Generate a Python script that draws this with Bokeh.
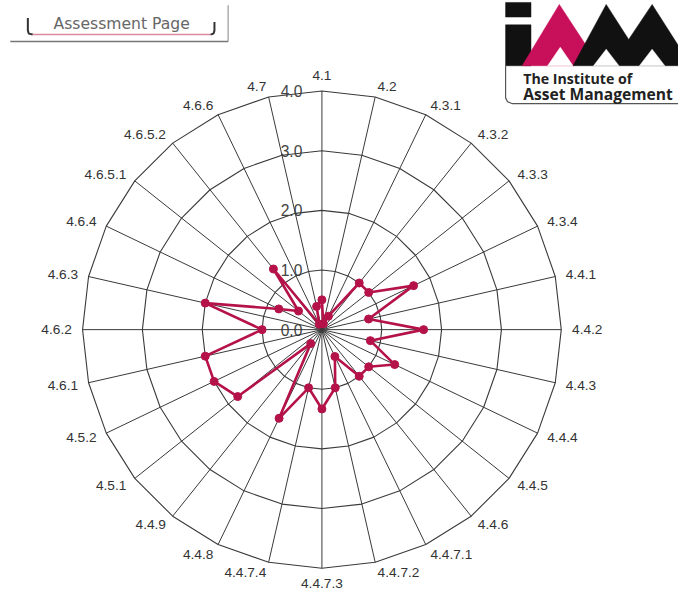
import numpy as np
from bokeh.plotting import figure
from bokeh.models import Range1d
from bokeh.core.properties import value
from bokeh.embed import file_html
from bokeh.resources import INLINE

# ---------------- data ----------------
categories = ["4.1", "4.2", "4.3.1", "4.3.2", "4.3.3", "4.3.4", "4.4.1", "4.4.2",
              "4.4.3", "4.4.4", "4.4.5", "4.4.6", "4.4.7.1", "4.4.7.2", "4.4.7.3",
              "4.4.7.4", "4.4.8", "4.4.9", "4.5.1", "4.5.2", "4.6.1", "4.6.2",
              "4.6.3", "4.6.4", "4.6.5.1", "4.6.5.2", "4.6.6", "4.7"]
scores = [0.5, 0.1, 0.25, 1.0, 1.0, 1.7, 0.8, 1.7,
          0.83, 1.35, 1.0, 1.0, 0.5, 1.0, 1.33,
          1.0, 1.65, 0.3, 1.8, 2.0, 2.0, 1.0,
          2.0, 0.8, 0.5, 1.3, 0.1, 0.4]
ring_values = [0.0, 1.0, 2.0, 3.0, 4.0]
ring_labels = ["0.0", "1.0", "2.0", "3.0", "4.0"]
r_max = 4.0

# ---------------- geometry ----------------
W, H = 678, 594            # figure size (fits the 694x610 window with 8px margin)
REF_W, REF_H = 694, 610    # layout designed in reference pixel space
CX, CY = 329, 338          # chart centre in reference pixels
K = r_max / 245.0          # data units per reference pixel
FS = W / REF_W             # font scale


def px(x, y):
    """reference pixel -> data coords (for decoration only)"""
    return (x - CX) * K, (CY - y) * K


def fs(v):
    return f"{v * FS:.1f}px"


p = figure(width=W, height=H, output_backend="svg", toolbar_location=None,
           x_axis_type=None, y_axis_type=None, min_border=0,
           x_range=Range1d(-CX * K, (REF_W - CX) * K),
           y_range=Range1d(-(REF_H - CY) * K, CY * K))
p.grid.visible = False
p.outline_line_color = None
p.background_fill_color = "white"
p.border_fill_color = "white"

n = len(categories)
ang = np.arange(n) * 2 * np.pi / n        # clockwise from top
sx, cy = np.sin(ang), np.cos(ang)

# ring value labels (under the grid)
p.text(x=[-20 * K] * len(ring_values), y=ring_values, text=ring_labels,
       text_align="right", text_baseline="middle", text_font=value("Liberation Sans"),
       text_font_size=fs(16), text_color="#444444")

# spokes
p.multi_line(xs=[[0, r_max * s] for s in sx], ys=[[0, r_max * c] for c in cy],
             line_color="#3a3a3a", line_width=1)
# rings (polygonal)
for rv in ring_values[1:]:
    p.line(x=list(rv * sx) + [rv * sx[0]], y=list(rv * cy) + [rv * cy[0]],
           line_color="#3a3a3a", line_width=1.1)

# spoke labels
lab_r = 256 * K
groups = {}
for i, name in enumerate(categories):
    s, c = sx[i], cy[i]
    if s > 0.01:
        al, bl = "left", "middle"
    elif s < -0.01:
        al, bl = "right", "middle"
    else:
        al, bl = "center", ("bottom" if c > 0 else "top")
    groups.setdefault((al, bl), ([], [], []))
    g = groups[(al, bl)]
    g[0].append(lab_r * s)
    g[1].append(lab_r * c)
    g[2].append(name)
for (al, bl), (gx, gy, gt) in groups.items():
    p.text(x=gx, y=gy, text=gt, text_align=al, text_baseline=bl,
           text_font=value("Liberation Sans"), text_font_size=fs(14),
           text_color="#333333")

# data series
vals = np.array(scores)
xs = list(vals * sx) + [vals[0] * sx[0]]
ys = list(vals * cy) + [vals[0] * cy[0]]
red = "#B5124A"
p.line(x=xs, y=ys, line_color=red, line_width=2.6)
p.scatter(x=list(vals * sx), y=list(vals * cy), size=8, fill_color=red,
          line_color=red)

# ---------------- header: "Assessment Page" tab ----------------
def seg(pts, **kw):
    xy = [px(a, b) for a, b in pts]
    p.line(x=[q[0] for q in xy], y=[q[1] for q in xy], **kw)

seg([(28, 18), (28, 31), (29, 34), (33, 35)], line_color="#333333", line_width=2)
seg([(33, 35), (215, 35)], line_color="#d98a9c", line_width=1.5)
seg([(215, 35), (218, 34), (219, 31), (219, 22)], line_color="#333333", line_width=2)
seg([(233, 5), (233, 42)], line_color="#9a9a9a", line_width=1.2)
seg([(10, 42), (233, 42)], line_color="#777777", line_width=1.5)
tx, ty = px(124, 24)
p.text(x=[tx], y=[ty], text=["Assessment Page"], text_align="center",
       text_baseline="middle", text_font=value("DejaVu Sans"),
       text_font_size=fs(16), text_color="#666666")

# ---------------- logo ----------------
def poly(pts, color):
    xy = [px(a, b) for a, b in pts]
    p.patch(x=[q[0] for q in xy], y=[q[1] for q in xy], fill_color=color,
            line_color=color, line_width=0.5)

poly([(517, 2), (543, 2), (543, 17), (517, 17)], "#111111")
poly([(517, 25), (543, 25), (543, 67), (517, 67)], "#111111")
poly([(534, 67), (572, 4), (600, 47), (587, 67)], "#C8105A")
poly([(586, 67), (620, 4), (643, 40), (667, 4), (700, 56), (700, 67)], "#111111")
poly([(560, 67), (573, 48), (586, 67)], "white")
poly([(607, 67), (620, 50), (633, 67)], "white")
poly([(654, 67), (667, 50), (680, 67)], "white")
seg([(517, 67), (517, 100), (519, 104), (524, 106), (700, 106)],
    line_color="#555555", line_width=1.2)
lx, ly = px(535, 80)
p.text(x=[lx], y=[ly], text=["The Institute of"], text_align="left",
       text_baseline="middle", text_font=value("Open Sans"), text_font_style="bold",
       text_font_size=fs(14.5), text_color="#222222")
lx, ly = px(535, 96)
p.text(x=[lx], y=[ly], text=["Asset Management"], text_align="left",
       text_baseline="middle", text_font=value("Open Sans"), text_font_style="bold",
       text_font_size=fs(16), text_color="#222222")

open("out.html", "w").write(file_html(p, INLINE))
